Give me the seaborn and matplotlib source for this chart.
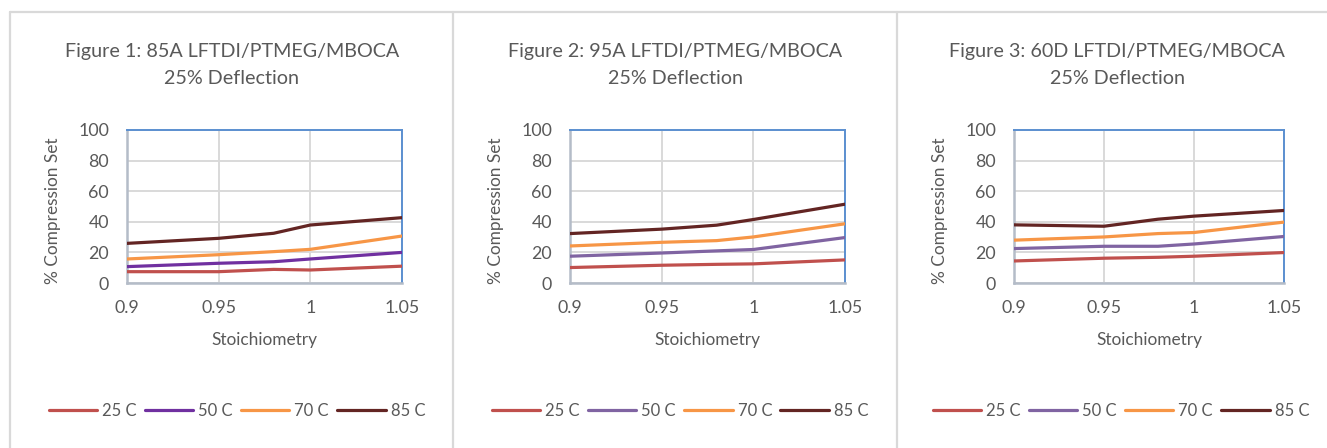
import matplotlib
matplotlib.use("Agg")
import matplotlib.pyplot as plt
import seaborn as sns
import pandas as pd
from matplotlib.lines import Line2D

sns.set_theme(style="white")
plt.rcParams['font.family'] = ['Lato', 'DejaVu Sans']

# ---- data ----
stoich = [0.90, 0.95, 0.98, 1.00, 1.05]
temps = ["25 C", "50 C", "70 C", "85 C"]
title_line1 = ["Figure 1: 85A LFTDI/PTMEG/MBOCA",
               "Figure 2: 95A LFTDI/PTMEG/MBOCA",
               "Figure 3: 60D LFTDI/PTMEG/MBOCA"]
title_line2 = "25% Deflection"

f1_25 = [7.4, 7.4, 8.9, 8.5, 11.0]
f1_50 = [10.7, 12.9, 13.9, 15.7, 20.0]
f1_70 = [15.7, 18.5, 20.5, 22.0, 30.7]
f1_85 = [25.9, 29.2, 32.5, 37.9, 42.7]

f2_25 = [10.1, 11.6, 12.2, 12.5, 15.1]
f2_50 = [17.5, 19.6, 21.0, 21.9, 29.7]
f2_70 = [24.2, 26.6, 27.7, 30.1, 38.7]
f2_85 = [32.3, 35.2, 37.8, 41.5, 51.5]

f3_25 = [14.4, 16.2, 16.8, 17.5, 19.9]
f3_50 = [22.5, 24.0, 24.0, 25.5, 30.4]
f3_70 = [28.0, 30.1, 32.3, 33.0, 39.8]
f3_85 = [38.0, 37.1, 41.7, 43.7, 47.4]

xticks = [0.9, 0.95, 1.0, 1.05]
xticklabels = ["0.9", "0.95", "1", "1.05"]
yticks = [0, 20, 40, 60, 80, 100]

figures = [
    [f1_25, f1_50, f1_70, f1_85],
    [f2_25, f2_50, f2_70, f2_85],
    [f3_25, f3_50, f3_70, f3_85],
]

palettes = [
    ["#c0504d", "#7030a0", "#f79646", "#632523"],
    ["#c0504d", "#8064a2", "#f79646", "#632523"],
    ["#c0504d", "#8064a2", "#f79646", "#632523"],
]

# ---- layout (pixels) ----
W, H = 1327, 448
fig = plt.figure(figsize=(W / 100, H / 100), dpi=100)
fig.patch.set_facecolor("white")

def fx(px):
    return px / W

def fy(py):
    return 1 - py / H

axes_px = [(127, 402), (570, 845), (1014, 1284)]
ax_top, ax_bot = 130, 283
title_cx = [232, 675, 1117]
legend_cx = [237, 680, 1121]
text_col = "#595959"

# panel borders
border_col = "#d9d9d9"
fig.add_artist(Line2D([fx(10), 1], [fy(12), fy(12)], color=border_col, lw=1.6))
for xb in [10, 453, 897]:
    fig.add_artist(Line2D([fx(xb), fx(xb)], [fy(12), 0], color=border_col, lw=1.6))

for i, (vals, pal) in enumerate(zip(figures, palettes)):
    x0, x1 = axes_px[i]
    ax = fig.add_axes([fx(x0), fy(ax_bot), (x1 - x0) / W, (ax_bot - ax_top) / H])
    rows = []
    for t, series in zip(temps, vals):
        for s, v in zip(stoich, series):
            rows.append({"Stoichiometry": s, "Value": v, "Temp": t})
    df = pd.DataFrame(rows)
    sns.lineplot(data=df, x="Stoichiometry", y="Value", hue="Temp",
                 palette=pal, ax=ax, lw=2.3, legend=False, zorder=3)
    ax.set_xlim(0.9, 1.05)
    ax.set_ylim(0, 100)
    ax.set_xticks(xticks)
    ax.set_xticklabels(xticklabels)
    ax.set_yticks(yticks)
    ax.grid(True, color="#d9d9d9", lw=1.4, zorder=0)
    ax.tick_params(axis="both", length=0, labelsize=12.8, colors=text_col)
    ax.tick_params(axis="x", pad=12)
    ax.tick_params(axis="y", pad=13)
    for side in ["top", "right"]:
        ax.spines[side].set_color("#5b8fd0")
        ax.spines[side].set_linewidth(1.4)
    for side in ["left", "bottom"]:
        ax.spines[side].set_color("#b4bcc8")
        ax.spines[side].set_linewidth(1.8)
    ax.set_xlabel("Stoichiometry", fontsize=12.4, color=text_col, labelpad=12)
    ax.set_ylabel("% Compression Set", fontsize=12.4, color=text_col)
    ax.yaxis.set_label_coords(-66 / (x1 - x0), 0.47)

    fig.text(fx(title_cx[i]), fy(52), title_line1[i], ha="center", va="center",
             fontsize=14.2, color=text_col)
    fig.text(fx(title_cx[i]), fy(79), title_line2, ha="center", va="center",
             fontsize=14.2, color=text_col)

    handles = [Line2D([], [], color=c, lw=2.3) for c in pal]
    fig.legend(handles, temps, loc="center", bbox_to_anchor=(fx(legend_cx[i]), fy(411)),
               ncol=4, frameon=False, fontsize=12, labelcolor=text_col,
               handlelength=2.9, handletextpad=0.3, columnspacing=0.5)

fig.savefig("out.png", dpi=100, facecolor="white")
